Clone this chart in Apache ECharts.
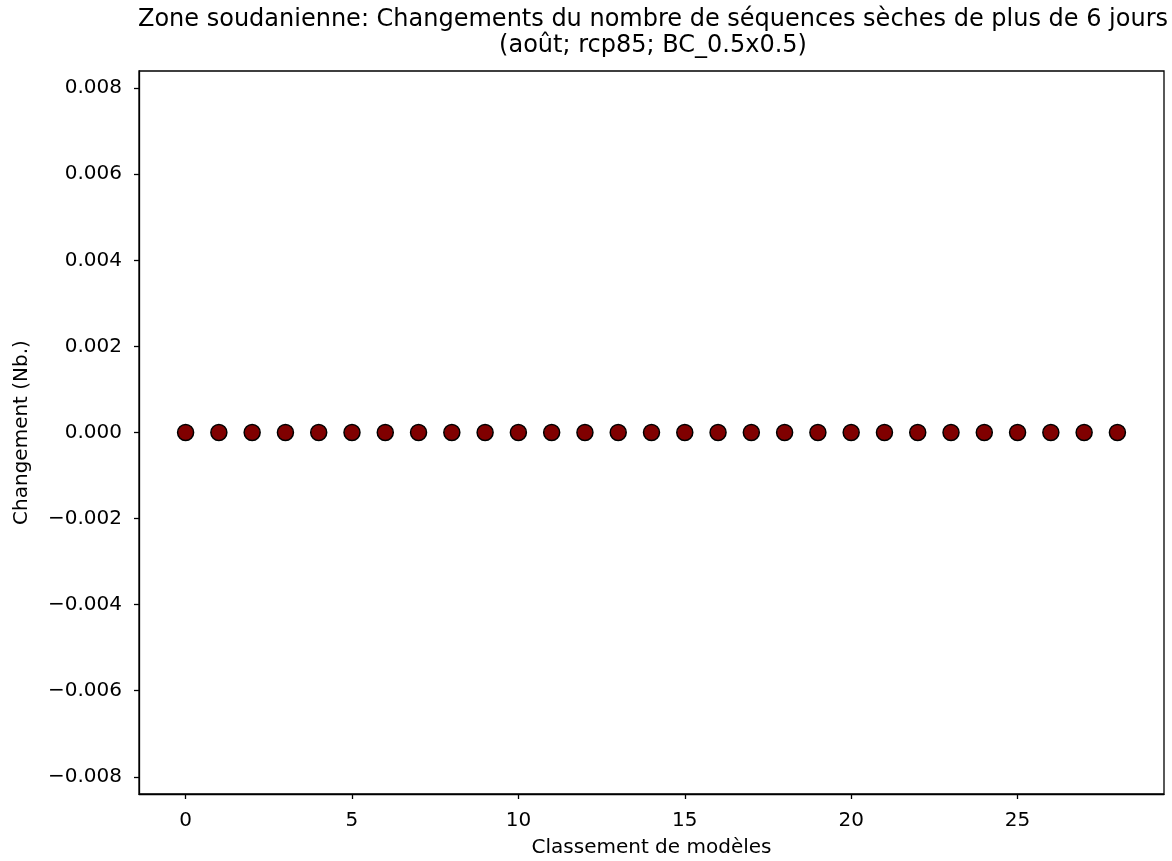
<!DOCTYPE html>
<html><head><meta charset="utf-8">
<script src="https://cdn.jsdelivr.net/npm/echarts@6/dist/echarts.min.js"></script>
<style>html,body{margin:0;padding:0;background:#fff}#c{width:1172px;height:861px}</style>
</head><body><div id="c"></div>
<script>
const models = [0,1,2,3,4,5,6,7,8,9,10,11,12,13,14,15,16,17,18,19,20,21,22,23,24,25,26,27,28];
const changes = [0,0,0,0,0,0,0,0,0,0,0,0,0,0,0,0,0,0,0,0,0,0,0,0,0,0,0,0,0];
const xTicks = [0,5,10,15,20,25];
const yTicks = [-0.008,-0.006,-0.004,-0.002,0,0.002,0.004,0.006,0.008];
const FONT = 'DejaVu Sans';
const chart = echarts.init(document.getElementById('c'), null, {renderer:'canvas'});
const fmtY = v => { const s = Math.abs(v).toFixed(3); return (v < -1e-12 ? '\u2212' : '') + s; };
chart.setOption({
  animation:false,
  title:{
    text:'Zone soudanienne: Changements du nombre de séquences sèches de plus de 6 jours\n(août; rcp85; BC_0.5x0.5)',
    left:648, top:2, textAlign:'center',
    textStyle:{fontFamily:FONT,fontSize:24,fontWeight:'normal',color:'#000',lineHeight:26}
  },
  grid:{left:139,right:8,top:71,bottom:67,containLabel:false,outerBoundsMode:'none'},
  xAxis:{
    type:'value', min:-1.4, max:29.4,
    name:'Classement de modèles', nameLocation:'middle', nameGap:44,
    nameTextStyle:{fontFamily:FONT,fontSize:20,color:'#000'},
    axisLine:{show:true,onZero:false,lineStyle:{color:'#000',width:1.3}},
    axisTick:{show:true,length:5,inside:false,customValues:xTicks,lineStyle:{color:'#000',width:1.3}},
    axisLabel:{show:true,customValues:xTicks,fontFamily:FONT,fontSize:20,color:'#000',margin:17},
    splitLine:{show:false}
  },
  yAxis:{
    type:'value', min:-0.0084, max:0.0084,
    name:'Changement (Nb.)', nameLocation:'middle', nameGap:107, nameRotate:90,
    nameTextStyle:{fontFamily:FONT,fontSize:20,color:'#000'},
    axisLine:{show:true,onZero:false,lineStyle:{color:'#000',width:1.3}},
    axisTick:{show:true,length:5,customValues:yTicks,lineStyle:{color:'#000',width:1.3}},
    axisLabel:{show:true,customValues:yTicks,formatter:fmtY,fontFamily:FONT,fontSize:20,color:'#000',margin:17},
    splitLine:{show:false}
  },
  graphic:[{type:'rect',shape:{x:139,y:71,width:1025,height:723},style:{fill:'none',stroke:'#000',lineWidth:1.3},z:100,silent:true}],
  series:[{
    type:'scatter',
    data: models.map((m,i)=>[m,changes[i]]),
    symbol:'circle', symbolSize:16,
    itemStyle:{color:'#800000',borderColor:'#000',borderWidth:1.5,opacity:1},
    z:5
  }]
});
</script></body></html>
